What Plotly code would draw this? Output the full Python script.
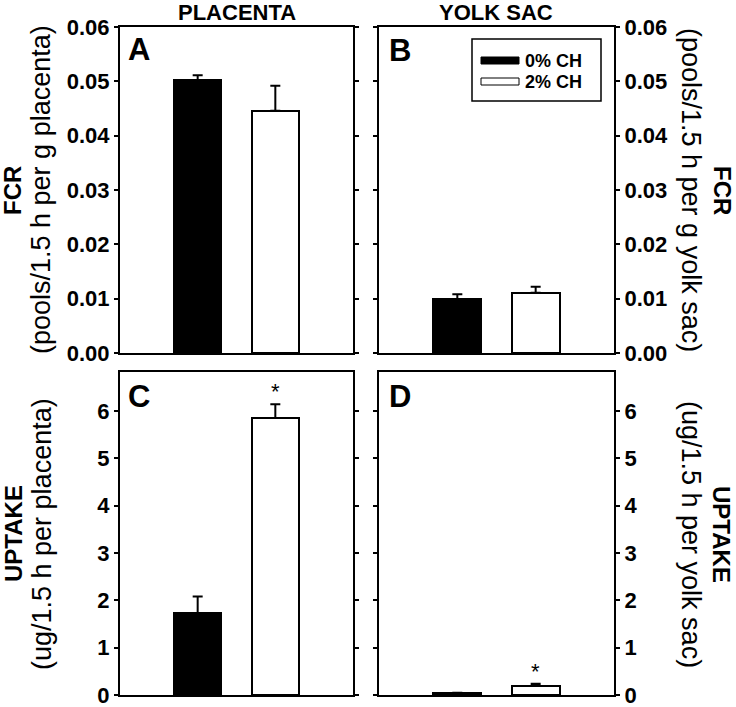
import plotly.graph_objects as go

W, H = 736, 707

# ---------------- data ----------------
groups = ["0% CH", "2% CH"]
group_x = [1, 2]
colors = ["black", "white"]

fcr_placenta = [0.0502, 0.0446]
fcr_placenta_err = [0.0009, 0.0046]
fcr_yolk = [0.0099, 0.0111]
fcr_yolk_err = [0.0009, 0.0011]
uptake_placenta = [1.73, 5.85]
uptake_placenta_err = [0.35, 0.29]
uptake_yolk = [0.05, 0.20]
uptake_yolk_err = [0.0, 0.04]

fcr_ticks = [0.00, 0.01, 0.02, 0.03, 0.04, 0.05, 0.06]
uptake_ticks = [0, 1, 2, 3, 4, 5, 6]

FONT = "Liberation Sans, Arial, sans-serif"

def px(x):
    return x / W

def py(y):
    return 1 - y / H

fig = go.Figure()

panels = [
    ("x", "y", fcr_placenta, fcr_placenta_err),
    ("x2", "y2", fcr_yolk, fcr_yolk_err),
    ("x3", "y3", uptake_placenta, uptake_placenta_err),
    ("x4", "y4", uptake_yolk, uptake_yolk_err),
]
for xa, ya, vals, errs in panels:
    fig.add_trace(go.Bar(
        x=group_x, y=vals, width=0.61,
        marker=dict(color=colors, line=dict(color="black", width=2)),
        error_y=dict(type="data", array=errs, arrayminus=[0, 0], symmetric=False,
                     color="black", thickness=2, width=5),
        xaxis=xa, yaxis=ya, showlegend=False, hoverinfo="skip",
    ))

xdomA = [px(120), px(353)]
xdomB = [px(379), px(614)]
ydomTop = [py(353), py(27)]
ydomBot = [py(695), py(372)]

xcommon = dict(range=[0, 3], showticklabels=False, ticks="", showline=True, mirror=True,
               linewidth=2, linecolor="black", zeroline=False, showgrid=False,
               fixedrange=True, automargin=False)
tickfont = dict(family=FONT, size=22, color="black", weight="bold")

def ymain(dom, rng, tv, fmt, xanchor, side):
    return dict(domain=dom, range=rng, tickvals=tv, tickformat=fmt, anchor=xanchor, side=side,
                ticks="outside", ticklen=4, tickwidth=2, tickcolor="black",
                showline=True, mirror="ticks", linewidth=2, linecolor="black",
                zeroline=False, showgrid=False, tickfont=tickfont, fixedrange=True,
                automargin=False, ticklabeloverflow="allow")

def yover(rng, tv, xanchor, side, over):
    return dict(range=rng, tickvals=tv, anchor=xanchor, side=side, overlaying=over,
                ticks="inside", ticklen=4, tickwidth=2, tickcolor="black",
                showline=True, mirror="ticks", linewidth=2, linecolor="black",
                showticklabels=False, zeroline=False, showgrid=False, fixedrange=True,
                automargin=False)

fr = [0, 0.06]
ur = [0, 6.82]

fig.update_layout(
    template="none",
    width=W, height=H,
    margin=dict(l=0, r=0, t=0, b=0, pad=0, autoexpand=False),
    paper_bgcolor="white", plot_bgcolor="white",
    font=dict(family=FONT, color="black"),
    showlegend=False,
    bargap=0,
    xaxis=dict(domain=xdomA, anchor="y", **xcommon),
    xaxis2=dict(domain=xdomB, anchor="y2", **xcommon),
    xaxis3=dict(domain=xdomA, anchor="y3", **xcommon),
    xaxis4=dict(domain=xdomB, anchor="y4", **xcommon),
    yaxis=ymain(ydomTop, fr, fcr_ticks, ".2f", "x", "left"),
    yaxis2=ymain(ydomTop, fr, fcr_ticks, ".2f", "x2", "right"),
    yaxis3=ymain(ydomBot, ur, uptake_ticks, "d", "x3", "left"),
    yaxis4=ymain(ydomBot, ur, uptake_ticks, "d", "x4", "right"),
    yaxis5=yover(fr, fcr_ticks, "x", "left", "y"),
    yaxis6=yover(fr, fcr_ticks, "x2", "right", "y2"),
    yaxis7=yover(ur, uptake_ticks, "x3", "left", "y3"),
    yaxis8=yover(ur, uptake_ticks, "x4", "right", "y4"),
)

ann = []

def txt(x, y, s, size, bold=False, angle=0, xanchor="center", yanchor="middle"):
    ann.append(dict(x=px(x), y=py(y), xref="paper", yref="paper", text=s, showarrow=False,
                    textangle=angle, xanchor=xanchor, yanchor=yanchor,
                    font=dict(family=FONT, size=size, color="black",
                              weight="bold" if bold else "normal")))

# column titles
txt(236.5, 13, "PLACENTA", 22, bold=True)
txt(496, 13, "YOLK SAC", 22, bold=True)

# panel letters
txt(126, 49, "A", 31, bold=True, xanchor="left")
txt(387, 50, "B", 31, bold=True, xanchor="left")
txt(126, 396, "C", 31, bold=True, xanchor="left")
txt(387, 397, "D", 31, bold=True, xanchor="left")

# axis titles left
txt(13, 190, "FCR", 24, bold=True, angle=-90)
txt(41, 190, "(pools/1.5 h per g placenta)", 27, angle=-90)
txt(13, 534, "UPTAKE", 24, bold=True, angle=-90)
txt(42, 534, "(ug/1.5 h per placenta)", 27, angle=-90)
# axis titles right
txt(691, 190, "(pools/1.5 h per g yolk sac)", 27, angle=90)
txt(722, 190, "FCR", 24, bold=True, angle=90)
txt(691, 534, "(ug/1.5 h per yolk sac)", 27, angle=90)
txt(722, 534, "UPTAKE", 24, bold=True, angle=90)

# significance asterisks (data coordinates)
ann.append(dict(x=group_x[1], y=uptake_placenta[1] + uptake_placenta_err[1], xref="x3", yref="y3",
                text="*", showarrow=False, yanchor="bottom", yshift=-2,
                font=dict(family=FONT, size=22, color="black")))
ann.append(dict(x=group_x[1], y=uptake_yolk[1] + uptake_yolk_err[1], xref="x4", yref="y4",
                text="*", showarrow=False, yanchor="bottom", yshift=-2,
                font=dict(family=FONT, size=22, color="black")))

# legend (drawn manually)
shapes = [
    dict(type="rect", xref="paper", yref="paper", x0=px(472), x1=px(601), y0=py(101), y1=py(39),
         line=dict(color="black", width=1.5), fillcolor="white"),
    dict(type="rect", xref="paper", yref="paper", x0=px(481), x1=px(519), y0=py(64), y1=py(57),
         line=dict(color="black", width=1), fillcolor=colors[0]),
    dict(type="rect", xref="paper", yref="paper", x0=px(481), x1=px(519), y0=py(85), y1=py(78),
         line=dict(color="black", width=1), fillcolor=colors[1]),
]
txt(523, 60.5, groups[0], 18, bold=True, xanchor="left")
txt(523, 81.5, groups[1], 18, bold=True, xanchor="left")

fig.update_layout(annotations=ann, shapes=shapes)

fig.write_html("out.html", config={"displayModeBar": False},
               post_script="document.body.style.margin='0px';document.body.style.overflow='hidden';")
